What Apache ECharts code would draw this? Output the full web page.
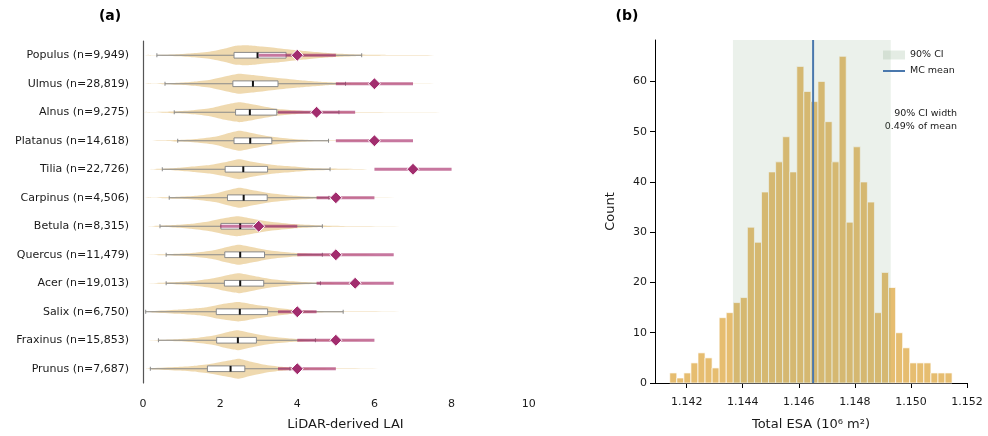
<!DOCTYPE html>
<html>
<head>
<meta charset="utf-8">
<script src="https://cdn.jsdelivr.net/npm/echarts@6/dist/echarts.min.js"></script>
<style>
  html, body { margin: 0; padding: 0; background: #fff; }
  #chart { width: 988px; height: 436px; }
</style>
</head>
<body>
<div id="chart"></div>
<script>
// ---- Panel (a): LAI distributions per genus ----
const species = ['Populus', 'Ulmus', 'Alnus', 'Platanus', 'Tilia', 'Carpinus',
                 'Betula', 'Quercus', 'Acer', 'Salix', 'Fraxinus', 'Prunus'];
const sampleSizes = [9949, 28819, 9275, 14618, 22726, 4506, 8315, 11479, 19013, 6750, 15853, 7687];

// box-plot statistics (LAI)
const whiskerLow  = [0.36, 0.57, 0.81, 0.90, 0.50, 0.68, 0.44, 0.60, 0.60, 0.07, 0.40, 0.19];
const quartile1   = [2.36, 2.33, 2.40, 2.36, 2.13, 2.19, 2.02, 2.12, 2.11, 1.90, 1.91, 1.67];
const medians     = [2.97, 2.85, 2.77, 2.78, 2.60, 2.61, 2.52, 2.52, 2.52, 2.51, 2.46, 2.27];
const quartile3   = [3.71, 3.50, 3.47, 3.34, 3.23, 3.22, 3.00, 3.15, 3.13, 3.23, 2.94, 2.64];
const whiskerHigh = [5.67, 5.25, 5.08, 4.81, 4.85, 4.82, 4.65, 4.65, 4.60, 5.19, 4.47, 3.81];

// literature reference LAI: range and typical value
const refLow  = [3.0, 5.0, 3.5, 5.0, 6.0, 4.5, 2.0, 4.0, 4.5, 3.5, 4.0, 3.5];
const refMid  = [4.0, 6.0, 4.5, 6.0, 7.0, 5.0, 3.0, 5.0, 5.5, 4.0, 5.0, 4.0];
const refHigh = [5.0, 7.0, 5.5, 7.0, 8.0, 6.0, 4.0, 6.5, 6.5, 4.5, 6.0, 5.0];

// violin outlines: [LAI, relative density] knots, one list per genus
const violinShapes = [
  [[0.05,0],[0.5,0.04],[0.9,0.1],[1.3,0.2],[1.75,0.37],[2.1,0.65],[2.4,0.95],[2.7,1.0],[3.0,0.9],[3.45,0.73],[4.05,0.47],[4.85,0.2],[5.6,0.07],[6.5,0.025],[8.6,0]],
  [[0.05,0],[0.5,0.04],[0.9,0.1],[1.3,0.2],[1.75,0.4],[2.15,0.75],[2.5,1.0],[2.9,0.85],[3.45,0.6],[4.0,0.38],[4.7,0.17],[5.4,0.06],[6.5,0.02],[8.1,0]],
  [[0.0,0],[0.5,0.04],[0.87,0.1],[1.3,0.2],[1.73,0.39],[2.16,0.78],[2.5,1.0],[2.86,0.78],[3.46,0.36],[3.9,0.2],[4.33,0.1],[5.0,0.04],[6.0,0.015],[7.97,0]],
  [[0.1,0],[0.5,0.03],[0.9,0.08],[1.4,0.18],[1.9,0.42],[2.2,0.75],[2.5,1.0],[2.85,0.75],[3.3,0.42],[3.8,0.2],[4.3,0.08],[5.0,0.03],[7.2,0]],
  [[0.1,0],[0.43,0.05],[0.87,0.13],[1.3,0.27],[1.73,0.43],[2.16,0.73],[2.49,1.0],[2.86,0.73],[3.46,0.4],[3.9,0.27],[4.33,0.13],[4.85,0.07],[5.9,0]],
  [[0.05,0],[0.5,0.04],[0.9,0.1],[1.4,0.2],[1.9,0.45],[2.2,0.75],[2.5,1.0],[2.85,0.75],[3.3,0.45],[3.85,0.22],[4.4,0.09],[5.2,0.03],[7.5,0]],
  [[0.05,0],[0.4,0.05],[0.8,0.12],[1.25,0.25],[1.7,0.48],[2.1,0.8],[2.45,1.0],[2.8,0.78],[3.3,0.45],[3.9,0.22],[4.6,0.08],[5.5,0.02],[7.5,0]],
  [[0.05,0],[0.5,0.05],[0.9,0.1],[1.35,0.2],[1.8,0.42],[2.15,0.75],[2.48,1.0],[2.85,0.75],[3.3,0.42],[3.85,0.2],[4.4,0.08],[5.2,0.025],[6.9,0]],
  [[0.05,0],[0.5,0.05],[0.9,0.12],[1.3,0.22],[1.75,0.45],[2.15,0.78],[2.48,1.0],[2.85,0.75],[3.3,0.43],[3.85,0.2],[4.4,0.08],[5.2,0.025],[6.9,0]],
  [[0.0,0],[0.26,0.07],[0.87,0.2],[1.56,0.4],[2.0,0.73],[2.47,0.97],[2.94,0.67],[3.46,0.4],[3.9,0.2],[4.5,0.07],[5.5,0.02],[7.5,0]],
  [[0.05,0],[0.5,0.05],[0.9,0.1],[1.35,0.22],[1.8,0.45],[2.15,0.78],[2.45,1.0],[2.8,0.72],[3.25,0.4],[3.8,0.18],[4.4,0.07],[5.2,0.02],[6.5,0]],
  [[0.05,0],[0.26,0.07],[0.87,0.17],[1.3,0.27],[1.73,0.47],[2.16,0.77],[2.49,1.0],[2.77,0.73],[3.2,0.37],[3.64,0.17],[4.16,0.07],[5.0,0.02],[6.9,0]]
];
const laiTicks = [0, 2, 4, 6, 8, 10];

// ---- Panel (b): Monte Carlo distribution of total ESA (10^6 m^2) ----
const binStart = 1.141396;
const binWidth = 0.0002518;
const binCounts = [2, 1, 2, 4, 6, 5, 3, 13, 14, 16, 17, 31, 28, 38, 42, 44, 49, 42, 63, 58,
                   56, 60, 52, 44, 65, 32, 47, 40, 36, 14, 22, 19, 10, 7, 4, 4, 4, 2, 2, 2];
const ciLow = 1.14365;
const ciHigh = 1.14928;
const mcMean = 1.14651;
const esaTicks = [1.142, 1.144, 1.146, 1.148, 1.150, 1.152];
const countTicks = [0, 10, 20, 30, 40, 50, 60];
const countTop = 68.25;

const FONT = 'DejaVu Sans';
const TXT = '#1a1a1a';

const categoryLabels = species.map((s, i) => s + ' (n=' + sampleSizes[i].toLocaleString('en-US') + ')');
const ciWidthPct = ((ciHigh - ciLow) / mcMean * 100).toFixed(2);

// plain horizontal stroke for the legend entry of the mean line
// (tiny corner marks keep the icon box 22x9 so the bar stays 2px thick)
const LINE_ICON = 'path://M0,0L0.01,0L0,0.01Z M0,3.5L22,3.5L22,5.5L0,5.5Z M22,9L21.99,9L22,8.99Z';

function renderGenus(params, api) {
  const i = params.dataIndex;
  const band = api.size([0, 1])[1];
  const hw = band * 0.35;      // violin half-width at peak density
  const hb = band * 0.1;       // box half-height
  const cy = api.coord([0, i])[1];
  const px = v => api.coord([v, i])[0];

  const shape = violinShapes[i];
  const top = shape.map(k => [px(k[0]), cy - k[1] * hw]);
  const bottom = shape.slice().reverse().map(k => [px(k[0]), cy + k[1] * hw]);

  const grey = '#8a8a8a';
  const children = [
    { type: 'polygon', shape: { points: top.concat(bottom), smooth: 0.15 },
      style: { fill: 'rgba(226,188,115,0.57)', stroke: null } },
    { type: 'line', shape: { x1: px(whiskerLow[i]), y1: cy, x2: px(whiskerHigh[i]), y2: cy },
      style: { stroke: grey, lineWidth: 1 } },
    { type: 'line', shape: { x1: px(whiskerLow[i]), y1: cy - 2, x2: px(whiskerLow[i]), y2: cy + 2 },
      style: { stroke: grey, lineWidth: 1 } },
    { type: 'line', shape: { x1: px(whiskerHigh[i]), y1: cy - 2, x2: px(whiskerHigh[i]), y2: cy + 2 },
      style: { stroke: grey, lineWidth: 1 } },
    { type: 'rect', shape: { x: px(quartile1[i]), y: cy - hb, width: px(quartile3[i]) - px(quartile1[i]), height: 2 * hb },
      style: { fill: '#fff', stroke: grey, lineWidth: 1 } },
    { type: 'line', shape: { x1: px(medians[i]), y1: cy - hb, x2: px(medians[i]), y2: cy + hb },
      style: { stroke: '#111', lineWidth: 2 } },
    { type: 'line', shape: { x1: px(refLow[i]), y1: cy, x2: px(refHigh[i]), y2: cy },
      style: { stroke: 'rgba(165,35,100,0.62)', lineWidth: 3, lineCap: 'butt' } }
  ];
  return { type: 'group', children };
}

function renderBin(params, api) {
  const p0 = api.coord([api.value(0), api.value(2)]);
  const p1 = api.coord([api.value(1), 0]);
  return {
    type: 'rect',
    shape: { x: p0[0], y: p0[1], width: p1[0] - p0[0], height: p1[1] - p0[1] },
    style: { fill: '#e6bd70', stroke: '#fff', lineWidth: 0.7 }
  };
}

function renderCI(params, api) {
  const cs = params.coordSys;
  const x0 = api.coord([api.value(0), 0])[0];
  const x1 = api.coord([api.value(1), 0])[0];
  return {
    type: 'rect',
    shape: { x: x0, y: cs.y, width: x1 - x0, height: cs.height },
    style: { fill: 'rgba(120,160,120,0.15)' }
  };
}

const chart = echarts.init(document.getElementById('chart'), null, { renderer: 'canvas' });

const axisText = { fontFamily: FONT, fontSize: 11, color: TXT };

chart.setOption({
  animation: false,
  backgroundColor: '#fff',
  textStyle: { fontFamily: FONT },
  grid: [
    { left: 143, top: 41, width: 405, height: 343 },
    { left: 655, top: 40, width: 312, height: 344 }
  ],
  xAxis: [
    {
      gridIndex: 0, type: 'value', min: 0, max: 10.5,
      axisLine: { lineStyle: { color: '#000', width: 1 } },
      axisTick: { length: 5, customValues: laiTicks, lineStyle: { color: '#000' } },
      axisLabel: { customValues: laiTicks, margin: 16, ...axisText },
      splitLine: { show: false },
      name: 'LiDAR-derived LAI', nameLocation: 'middle', nameGap: 35,
      nameTextStyle: { fontFamily: FONT, fontSize: 13, color: TXT }
    },
    {
      gridIndex: 1, type: 'value', min: 1.14087, max: 1.152,
      axisLine: { lineStyle: { color: '#000', width: 1 } },
      axisTick: { length: 5, customValues: esaTicks, lineStyle: { color: '#000' } },
      axisLabel: { customValues: esaTicks, margin: 14, formatter: v => v.toFixed(3), ...axisText },
      splitLine: { show: false },
      name: 'Total ESA (10\u2076 m\u00b2)', nameLocation: 'middle', nameGap: 35,
      nameTextStyle: { fontFamily: FONT, fontSize: 13, color: TXT }
    }
  ],
  yAxis: [
    {
      gridIndex: 0, type: 'category', data: categoryLabels, inverse: true,
      axisLine: { lineStyle: { color: '#555', width: 1.2 } },
      axisTick: { alignWithLabel: true, length: 5, lineStyle: { color: '#000' } },
      axisLabel: { margin: 14, ...axisText },
      splitLine: { show: false }
    },
    {
      gridIndex: 1, type: 'value', min: 0, max: countTop,
      axisLine: { show: true, lineStyle: { color: '#000', width: 1 } },
      axisTick: { show: true, length: 5, customValues: countTicks, lineStyle: { color: '#000' } },
      axisLabel: { customValues: countTicks, margin: 8, ...axisText },
      splitLine: { show: false },
      name: 'Count', nameLocation: 'middle', nameGap: 38,
      nameTextStyle: { fontFamily: FONT, fontSize: 13, color: TXT }
    }
  ],
  legend: {
    left: 878, top: 45, orient: 'vertical',
    itemWidth: 22, itemHeight: 9, itemGap: 6,
    textStyle: { fontFamily: FONT, fontSize: 9.5, color: TXT },
    data: [{ name: '90% CI', icon: 'rect' }, { name: 'MC mean', icon: LINE_ICON }]
  },
  graphic: [
    { type: 'text', x: 110, y: 16, style: { text: '(a)', font: 'bold 14px "DejaVu Sans"', fill: '#000', textAlign: 'center', textVerticalAlign: 'middle' } },
    { type: 'text', x: 627, y: 16, style: { text: '(b)', font: 'bold 14px "DejaVu Sans"', fill: '#000', textAlign: 'center', textVerticalAlign: 'middle' } },
    { type: 'text', x: 957, y: 120, style: { text: '90% CI width\n' + ciWidthPct + '% of mean', font: '9.5px "DejaVu Sans"', fill: TXT, textAlign: 'right', textVerticalAlign: 'middle', lineHeight: 13.5 } }
  ],
  series: [
    {
      type: 'custom', name: 'genus', xAxisIndex: 0, yAxisIndex: 0,
      data: species.map((s, i) => [0, i]), encode: { x: 0, y: 1 },
      renderItem: renderGenus, z: 2, silent: true
    },
    {
      type: 'scatter', name: 'reference', xAxisIndex: 0, yAxisIndex: 0,
      data: species.map((s, i) => [refMid[i], i]),
      symbol: 'diamond', symbolSize: 12,
      itemStyle: { color: '#a22d6e', borderColor: '#fff', borderWidth: 1, opacity: 1 },
      z: 4, silent: true
    },
    {
      type: 'custom', name: 'histogram', xAxisIndex: 1, yAxisIndex: 1,
      data: binCounts.map((c, i) => [binStart + i * binWidth, binStart + (i + 1) * binWidth, c]),
      encode: { x: [0, 1], y: 2 },
      renderItem: renderBin, z: 2, silent: true
    },
    {
      type: 'custom', name: '90% CI', xAxisIndex: 1, yAxisIndex: 1,
      data: [[ciLow, ciHigh, 0]], encode: { x: [0, 1], y: 2 },
      itemStyle: { color: 'rgba(120,160,120,0.2)' },
      renderItem: renderCI, z: 3, silent: true
    },
    {
      type: 'line', name: 'MC mean', xAxisIndex: 1, yAxisIndex: 1,
      data: [[mcMean, 0], [mcMean, countTop]],
      symbol: 'none', lineStyle: { color: '#4a78ad', width: 2 },
      itemStyle: { color: '#4a78ad' },
      z: 4, silent: true
    }
  ]
});
</script>
</body>
</html>
